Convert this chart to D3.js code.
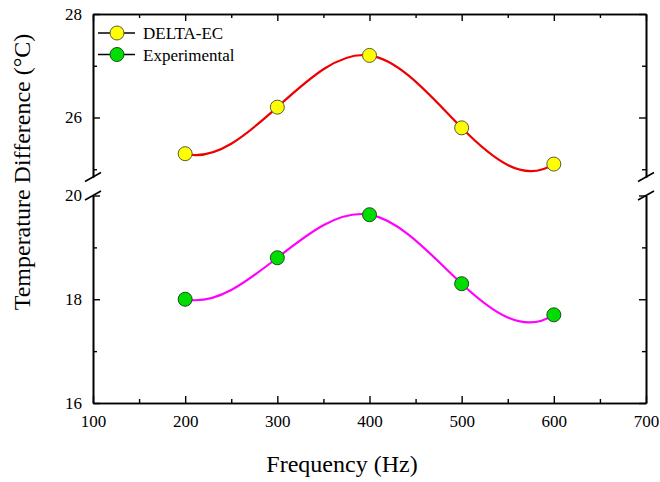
<!DOCTYPE html>
<html>
<head>
<meta charset="utf-8">
<script src="https://cdn.jsdelivr.net/npm/d3@7/dist/d3.min.js"></script>
<style>
  html, body { margin: 0; padding: 0; background: #fff; }
  svg { display: block; }
  text { font-family: "Liberation Serif", "Times New Roman", serif; fill: #000; }
</style>
</head>
<body>
<svg id="chart" width="660" height="482"></svg>
<script>
// Measured temperature difference against drive frequency
const frequencies = [200, 300, 400, 500, 600];
const deltaEC = [25.3, 26.2, 27.2, 25.8, 25.1];
const experimental = [18.0, 18.8, 19.63, 18.3, 17.7];

// Axis ticks
const xMajorTicks = [100, 200, 300, 400, 500, 600, 700];
const xMinorTicks = [150, 250, 350, 450, 550, 650];
const yUpperMajor = [26, 28];
const yUpperMinor = [25, 27];
const yLowerMajor = [16, 18, 20];
const yLowerMinor = [17, 19];

const seriesNames = ["DELTA-EC", "Experimental"];

// Cubic spline with not-a-knot end conditions, as a d3 curve factory
function curveNotAKnot(context) { return new NotAKnot(context); }
function NotAKnot(context) { this._context = context; }
NotAKnot.prototype = {
  areaStart() { this._line = 0; },
  areaEnd() { this._line = NaN; },
  lineStart() { this._x = []; this._y = []; },
  point(px, py) { this._x.push(+px); this._y.push(+py); },
  lineEnd() {
    const xs = this._x, ys = this._y, n = xs.length, ctx = this._context;
    if (!n) return;
    ctx.moveTo(xs[0], ys[0]);
    if (n === 1) return;
    if (n === 2) { ctx.lineTo(xs[1], ys[1]); return; }
    const h = [], d = [];
    for (let i = 0; i < n - 1; i++) { h.push(xs[i + 1] - xs[i]); d.push((ys[i + 1] - ys[i]) / h[i]); }
    const A = Array.from({ length: n }, () => new Array(n).fill(0));
    const b = new Array(n).fill(0);
    for (let i = 1; i < n - 1; i++) {
      A[i][i - 1] = h[i - 1];
      A[i][i] = 2 * (h[i - 1] + h[i]);
      A[i][i + 1] = h[i];
      b[i] = 6 * (d[i] - d[i - 1]);
    }
    if (n >= 4) {
      A[0][0] = -h[1]; A[0][1] = h[0] + h[1]; A[0][2] = -h[0];
      A[n - 1][n - 3] = -h[n - 2]; A[n - 1][n - 2] = h[n - 3] + h[n - 2]; A[n - 1][n - 1] = -h[n - 3];
    } else {
      A[0][0] = 1; A[n - 1][n - 1] = 1;
    }
    // Gaussian elimination with partial pivoting
    for (let c = 0; c < n; c++) {
      let p = c;
      for (let r = c + 1; r < n; r++) if (Math.abs(A[r][c]) > Math.abs(A[p][c])) p = r;
      [A[c], A[p]] = [A[p], A[c]]; [b[c], b[p]] = [b[p], b[c]];
      for (let r = c + 1; r < n; r++) {
        const f = A[r][c] / A[c][c];
        for (let k = c; k < n; k++) A[r][k] -= f * A[c][k];
        b[r] -= f * b[c];
      }
    }
    const M = new Array(n).fill(0);
    for (let r = n - 1; r >= 0; r--) {
      let s = b[r];
      for (let k = r + 1; k < n; k++) s -= A[r][k] * M[k];
      M[r] = s / A[r][r];
    }
    for (let i = 0; i < n - 1; i++) {
      const s0 = d[i] - h[i] * (2 * M[i] + M[i + 1]) / 6;
      const s1 = d[i] + h[i] * (M[i] + 2 * M[i + 1]) / 6;
      const t = h[i] / 3;
      ctx.bezierCurveTo(xs[i] + t, ys[i] + t * s0, xs[i + 1] - t, ys[i + 1] - t * s1, xs[i + 1], ys[i + 1]);
    }
  }
};

const svg = d3.select("#chart");

const plotLeft = 93, plotRight = 646, plotTop = 14, plotBottom = 403;
const upperBottom = 177, lowerTop = 195.5;

const x = d3.scaleLinear().domain([100, 700]).range([plotLeft, plotRight]);
const yUpper = d3.scaleLinear().domain([24.85, 28]).range([upperBottom, plotTop]);
const yLower = d3.scaleLinear().domain([16, 20]).range([plotBottom, lowerTop]);

const majorLen = 7, minorLen = 4;

function styleAxis(g) {
  g.selectAll("path.domain").attr("stroke", "#000").attr("stroke-width", 1.6);
  g.selectAll(".tick line").attr("stroke", "#000").attr("stroke-width", 1.4);
  g.selectAll(".tick text").attr("font-family", "Liberation Serif, Times New Roman, serif").attr("font-size", 17).attr("fill", "#000");
}

// Bottom axis
svg.append("g").attr("transform", `translate(0,${plotBottom})`)
  .call(d3.axisBottom(x).tickValues(xMajorTicks).tickSizeInner(-majorLen).tickSizeOuter(0).tickPadding(12).tickFormat(d3.format("d")))
  .call(styleAxis);
svg.append("g").attr("transform", `translate(0,${plotBottom})`)
  .call(d3.axisBottom(x).tickValues(xMinorTicks).tickSizeInner(-minorLen).tickSizeOuter(0).tickFormat(""))
  .call(styleAxis);
// Top axis
svg.append("g").attr("transform", `translate(0,${plotTop})`)
  .call(d3.axisTop(x).tickValues(xMajorTicks).tickSizeInner(-majorLen).tickSizeOuter(0).tickFormat(""))
  .call(styleAxis);
svg.append("g").attr("transform", `translate(0,${plotTop})`)
  .call(d3.axisTop(x).tickValues(xMinorTicks).tickSizeInner(-minorLen).tickSizeOuter(0).tickFormat(""))
  .call(styleAxis);

// Left and right axes, each in two segments around the break
[[yUpper, yUpperMajor, yUpperMinor], [yLower, yLowerMajor, yLowerMinor]].forEach(([scale, maj, mnr]) => {
  svg.append("g").attr("transform", `translate(${plotLeft},0)`)
    .call(d3.axisLeft(scale).tickValues(maj).tickSizeInner(-majorLen).tickSizeOuter(0).tickPadding(11).tickFormat(d3.format("d")))
    .call(styleAxis);
  svg.append("g").attr("transform", `translate(${plotLeft},0)`)
    .call(d3.axisLeft(scale).tickValues(mnr).tickSizeInner(-minorLen).tickSizeOuter(0).tickFormat(""))
    .call(styleAxis);
  svg.append("g").attr("transform", `translate(${plotRight},0)`)
    .call(d3.axisRight(scale).tickValues(maj).tickSizeInner(-majorLen).tickSizeOuter(0).tickFormat(""))
    .call(styleAxis);
  svg.append("g").attr("transform", `translate(${plotRight},0)`)
    .call(d3.axisRight(scale).tickValues(mnr).tickSizeInner(-minorLen).tickSizeOuter(0).tickFormat(""))
    .call(styleAxis);
});

// Break marks
[plotLeft, plotRight].forEach(ax => {
  [upperBottom, lowerTop].forEach(yy => {
    svg.append("line")
      .attr("x1", ax - 8).attr("y1", yy + 4.5)
      .attr("x2", ax + 8).attr("y2", yy - 4.5)
      .attr("stroke", "#000").attr("stroke-width", 1.6);
  });
});

// Series
const series = [
  { name: seriesNames[0], values: deltaEC, scale: yUpper, line: "#ee0000", fill: "#ffff00", edge: "#5a5a3a" },
  { name: seriesNames[1], values: experimental, scale: yLower, line: "#ff00ff", fill: "#00dd00", edge: "#1d4d1d" }
];

series.forEach(s => {
  const pts = frequencies.map((f, i) => [f, s.values[i]]);
  const line = d3.line().x(d => x(d[0])).y(d => s.scale(d[1])).curve(curveNotAKnot);
  svg.append("path").attr("d", line(pts))
    .attr("fill", "none").attr("stroke", s.line).attr("stroke-width", 2.2);
  svg.append("g").selectAll("circle").data(pts).join("circle")
    .attr("cx", d => x(d[0])).attr("cy", d => s.scale(d[1])).attr("r", 7)
    .attr("fill", s.fill).attr("stroke", s.edge).attr("stroke-width", 1);
});

// Legend
const legend = svg.append("g");
series.forEach((s, i) => {
  const yy = 33 + i * 21.5;
  legend.append("line").attr("x1", 98).attr("x2", 135).attr("y1", yy).attr("y2", yy)
    .attr("stroke", "#000").attr("stroke-width", 1.5);
  legend.append("circle").attr("cx", 117).attr("cy", yy).attr("r", 7)
    .attr("fill", s.fill).attr("stroke", s.edge).attr("stroke-width", 1);
  legend.append("text").attr("x", 143).attr("y", yy + 6)
    .attr("font-size", 17).text(s.name);
});

// Axis titles
svg.append("text").attr("x", 342).attr("y", 472).attr("text-anchor", "middle")
  .attr("font-size", 24).text("Frequency (Hz)");
svg.append("text").attr("transform", "translate(30,172) rotate(-90)").attr("text-anchor", "middle")
  .attr("font-size", 24).text("Temperature Difference (°C)");
</script>
</body>
</html>
